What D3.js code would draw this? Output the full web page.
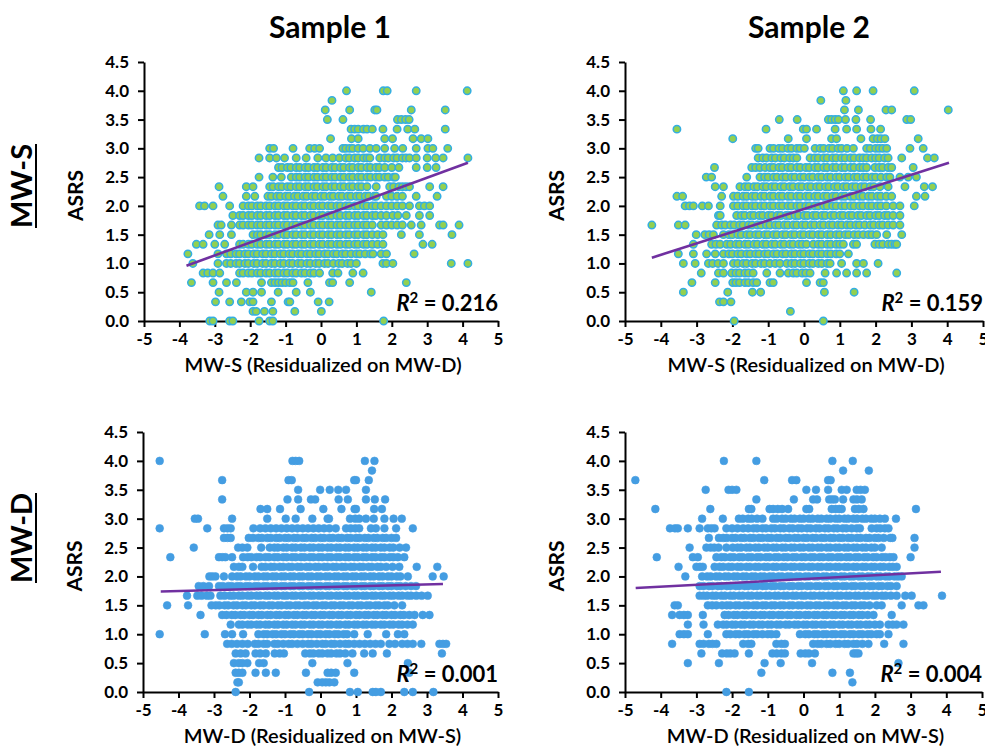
<!DOCTYPE html>
<html>
<head>
<meta charset="utf-8">
<script src="https://cdn.jsdelivr.net/npm/d3@7"></script>
<style>
    body { margin: 0; background: #fff; }
    text { font-family: Lato, "Open Sans", sans-serif; }
</style>
</head>
<body>
<svg id="chart" width="985" height="752"></svg>
<script>
/*
 * ASRS vs residualized MW-S / MW-D, two samples
 * Each row array holds the x values of the points sitting on one ASRS level
 */

var asrsLevels = [0, 0.167, 0.333, 0.5, 0.667, 0.833, 1, 1.167, 1.333, 1.5, 1.667, 1.833,
    2, 2.167, 2.333, 2.5, 2.667, 2.833, 3, 3.167, 3.333, 3.5, 3.667, 3.833, 4];

var xTicks = [-5, -4, -3, -2, -1, 0, 1, 2, 3, 4, 5];
var yTicks = [0, 0.5, 1, 1.5, 2, 2.5, 3, 3.5, 4, 4.5];

var sampleTitles = ["Sample 1", "Sample 2"];
var rowTitles = ["MW-S", "MW-D"];
var xTitles = ["MW-S (Residualized on MW-D)", "MW-D (Residualized on MW-S)"];
var rSquared = ["0.216", "0.159", "0.001", "0.004"];

// fitted lines, [x, y] at both ends
var trendS1Mws = [[-3.8, 0.96], [4.15, 2.75]];
var trendS2Mws = [[-4.25, 1.1], [4.05, 2.75]];
var trendS1Mwd = [[-4.5, 1.74], [3.45, 1.87]];
var trendS2Mwd = [[-4.7, 1.8], [3.85, 2.08]];

var s1MwsRows = [
    [-3.14, -3.05, -2.58, -2.49, -1.75, -1.45, -1.36, 1.77],
    [-1.92, -1.83, -1.6, -1.36, -0.74, 0.01],
    [-2.98, -2.58, -2.25, -2.01, -1.92, -1.4, -0.93, -0.88, -0.08, 0.23],
    [-2.88, -2.11, -1.92, -1.68, -1.21, -0.7, -0.3, 1.42],
    [-3.66, -3.05, -2.67, -2.39, -1.68, -1.4, -1.3, -1.2, -1.1, -1.0, -0.88, -0.79, -0.37, 0.24, 0.33, 0.81, 2.41],
    [-3.33, -3.2, -3.05, -2.86, -2.3, -2.2, -2.05, -1.95, -1.8, -1.7, -1.55, -1.45, -1.3, -1.2, -1.05, -0.95, -0.8, -0.7, -0.55, -0.45, -0.3, -0.2, -0.04, 0.33, 0.48, 0.9, 1.19],
    [-3.62, -2.91, -2.67, -2.55, -2.4, -2.3, -2.15, -2.05, -1.9, -1.8, -1.65, -1.55, -1.4, -1.3, -1.15, -1.05, -0.9, -0.8, -0.65, -0.55, -0.4, -0.3, -0.15, -0.05, 0.1, 0.2, 0.35, 0.5, 0.6, 0.75, 0.85, 1.0, 1.75, 1.85, 2.03, 3.68, 4.15],
    [-3.76, -2.91, -2.67, -2.55, -2.4, -2.3, -2.15, -2.05, -1.9, -1.8, -1.65, -1.55, -1.4, -1.3, -1.15, -1.05, -0.9, -0.8, -0.65, -0.55, -0.4, -0.3, -0.15, -0.05, 0.1, 0.2, 0.35, 0.45, 0.6, 0.7, 0.85, 1.0, 1.1, 1.25, 1.4, 1.47, 1.7, 1.85, 2.63],
    [-3.52, -3.33, -3.0, -2.72, -2.3, -2.2, -2.05, -1.95, -1.8, -1.7, -1.55, -1.45, -1.3, -1.2, -1.05, -0.95, -0.8, -0.7, -0.55, -0.45, -0.3, -0.2, -0.05, 0.05, 0.2, 0.3, 0.45, 0.55, 0.7, 0.8, 0.95, 1.05, 1.2, 1.3, 1.45, 1.6, 1.75, 2.88, 3.14],
    [-3.16, -2.86, -2.53, -1.92, -1.8, -1.7, -1.55, -1.45, -1.3, -1.2, -1.05, -0.95, -0.8, -0.7, -0.55, -0.45, -0.3, -0.2, -0.05, 0.05, 0.2, 0.3, 0.45, 0.55, 0.7, 0.8, 0.95, 1.05, 1.2, 1.3, 1.45, 1.6, 1.75, 2.27, 2.78, 3.7],
    [-2.91, -2.82, -2.53, -2.3, -2.2, -2.05, -1.95, -1.8, -1.7, -1.55, -1.45, -1.3, -1.2, -1.05, -0.95, -0.8, -0.7, -0.55, -0.45, -0.3, -0.2, -0.05, 0.05, 0.2, 0.3, 0.45, 0.55, 0.7, 0.8, 0.95, 1.05, 1.2, 1.3, 1.45, 1.7, 1.85, 2.0, 2.15, 2.3, 2.55, 2.83, 3.35, 3.45, 3.9],
    [-2.49, -2.3, -2.2, -2.05, -1.95, -1.8, -1.7, -1.55, -1.45, -1.3, -1.2, -1.05, -0.95, -0.8, -0.7, -0.55, -0.45, -0.3, -0.2, -0.05, 0.05, 0.2, 0.3, 0.45, 0.55, 0.7, 0.8, 0.95, 1.05, 1.2, 1.3, 1.45, 1.55, 1.7, 1.85, 2.03, 2.17, 2.41, 2.78, 3.07],
    [-3.43, -3.29, -3.05, -2.58, -2.2, -2.05, -1.95, -1.8, -1.7, -1.55, -1.45, -1.3, -1.2, -1.05, -0.95, -0.8, -0.7, -0.55, -0.45, -0.3, -0.2, -0.05, 0.05, 0.2, 0.3, 0.45, 0.55, 0.7, 0.8, 0.95, 1.05, 1.2, 1.3, 1.45, 1.55, 1.7, 1.85, 2.0, 2.15, 2.3, 2.5, 2.78, 2.92, 3.07],
    [-2.77, -2.11, -1.87, -1.5, -1.4, -1.25, -1.15, -1.0, -0.9, -0.75, -0.65, -0.5, -0.4, -0.25, -0.15, 0.0, 0.1, 0.25, 0.35, 0.5, 0.6, 0.75, 0.85, 1.0, 1.1, 1.25, 1.35, 1.5, 1.56, 1.85, 2.0, 2.15, 2.3, 2.69, 3.28],
    [-2.88, -2.11, -1.92, -1.45, -1.35, -1.2, -1.1, -0.95, -0.85, -0.7, -0.6, -0.45, -0.35, -0.2, -0.1, 0.05, 0.15, 0.3, 0.4, 0.55, 0.65, 0.8, 0.9, 1.05, 1.15, 1.3, 1.56, 1.94, 2.05, 2.2, 2.3, 2.4, 2.5, 3.07, 3.45],
    [-1.75, -1.36, -1.12, -0.84, -0.7, -0.6, -0.45, -0.35, -0.2, -0.1, 0.05, 0.15, 0.3, 0.4, 0.55, 0.65, 0.8, 0.9, 1.05, 1.15, 1.3, 1.4, 1.55, 1.65, 1.8, 1.9, 2.05, 2.1],
    [-1.2, -1.1, -0.95, -0.85, -0.7, -0.6, -0.45, -0.35, -0.2, -0.1, 0.05, 0.15, 0.3, 0.4, 0.55, 0.65, 0.8, 0.9, 1.05, 1.15, 1.3, 1.4, 1.55, 1.65, 1.8, 2.0, 2.2, 2.69, 3.0, 3.25],
    [-1.75, -1.45, -1.26, -1.03, -0.7, -0.42, -0.09, 0.14, 0.33, 0.52, 0.7, 0.8, 0.95, 1.05, 1.2, 1.3, 1.38, 1.66, 1.8, 1.9, 2.05, 2.15, 2.3, 2.4, 2.5, 2.69, 3.0, 3.24, 3.45, 4.15],
    [-1.45, -1.34, -0.79, -0.32, -0.18, -0.04, 0.62, 0.7, 0.81, 0.9, 1.05, 1.19, 1.38, 1.56, 1.8, 2.08, 2.31, 2.69, 3.02, 3.16, 3.58],
    [0.27, 0.86, 1.05, 1.8, 2.02, 2.6, 2.83, 3.02],
    [0.85, 0.95, 1.05, 1.2, 1.3, 1.45, 1.75, 2.15, 2.45, 2.65, 3.51],
    [0.18, 0.62, 2.16, 2.27, 2.39, 2.49],
    [0.12, 0.81, 1.52, 1.58, 2.55, 3.51],
    [0.31],
    [0.72, 1.76, 1.87, 2.69, 4.13]
];

var s2MwsRows = [
    [-1.95, 0.54],
    [-0.38],
    [-2.36, -2.25, -2.04],
    [-3.37, -2.13, -1.44, -1.21, 0.57, 1.4],
    [-3.13, -2.48, -1.99, -1.9, -1.8, -1.65, -1.55, -1.42, -1.32, -0.95, -0.86, 0.07, 0.45, 0.54],
    [-2.87, -2.39, -2.25, -2.02, -1.9, -1.8, -1.65, -1.55, -1.42, -1.04, -0.67, -0.44, -0.3, -0.2, -0.05, 0.05, 0.17, 0.59, 0.91, 1.19, 1.47, 1.75, 2.59],
    [-3.37, -3.04, -2.67, -2.55, -2.4, -2.25, -1.97, -1.85, -1.7, -1.6, -1.45, -1.35, -1.2, -1.1, -0.95, -0.8, -0.67, -0.48, -0.35, -0.25, -0.1, 0.0, 0.15, 0.25, 0.4, 0.5, 0.65, 0.73, 1.05, 1.47, 1.66, 2.07],
    [-3.51, -3.09, -2.72, -2.48, -2.25, -2.1, -2.0, -1.85, -1.75, -1.6, -1.5, -1.35, -1.25, -1.1, -1.0, -0.85, -0.75, -0.6, -0.5, -0.35, -0.25, -0.1, 0.0, 0.15, 0.25, 0.4, 0.5, 0.65, 0.75, 0.9, 1.0, 1.24],
    [-3.09, -2.58, -2.46, -2.34, -2.16, -2.05, -1.9, -1.8, -1.65, -1.55, -1.4, -1.3, -1.15, -1.05, -0.9, -0.8, -0.65, -0.55, -0.4, -0.3, -0.15, -0.05, 0.07, 0.26, 0.4, 0.5, 0.65, 0.75, 0.9, 1.0, 1.1, 1.38, 1.47, 1.98, 2.1, 2.2, 2.35, 2.45, 2.54, 2.59],
    [-3.01, -2.77, -2.65, -2.53, -2.25, -2.1, -2.0, -1.85, -1.75, -1.6, -1.5, -1.35, -1.25, -1.1, -1.0, -0.85, -0.75, -0.6, -0.5, -0.35, -0.25, -0.1, 0.0, 0.15, 0.25, 0.4, 0.5, 0.65, 0.75, 0.9, 1.0, 1.15, 1.25, 1.4, 1.52, 1.66, 1.8, 1.9, 2.03, 2.31, 2.73],
    [-4.25, -3.51, -3.32, -2.44, -2.3, -2.2, -2.05, -1.95, -1.8, -1.7, -1.55, -1.45, -1.3, -1.2, -1.05, -0.95, -0.8, -0.7, -0.55, -0.45, -0.3, -0.2, -0.05, 0.05, 0.2, 0.3, 0.45, 0.55, 0.7, 0.8, 0.95, 1.05, 1.2, 1.3, 1.45, 1.55, 1.7, 1.85, 1.95, 2.1, 2.2, 2.35, 2.49, 2.68],
    [-2.39, -2.34, -1.88, -1.75, -1.65, -1.5, -1.4, -1.25, -1.15, -1.0, -0.9, -0.75, -0.65, -0.5, -0.4, -0.25, -0.15, 0.0, 0.1, 0.25, 0.35, 0.5, 0.6, 0.75, 0.85, 1.0, 1.1, 1.25, 1.35, 1.5, 1.6, 1.75, 1.85, 2.0, 2.1, 2.25, 2.35, 2.49, 2.68],
    [-3.32, -3.2, -3.09, -2.84, -2.67, -2.34, -1.97, -1.85, -1.7, -1.6, -1.45, -1.35, -1.2, -1.1, -0.95, -0.85, -0.7, -0.6, -0.45, -0.35, -0.2, -0.1, 0.05, 0.15, 0.3, 0.4, 0.55, 0.65, 0.8, 0.9, 1.05, 1.15, 1.3, 1.4, 1.55, 1.65, 1.8, 1.9, 2.05, 2.15, 2.3, 2.49, 2.68, 3.08],
    [-3.55, -3.39, -2.3, -1.97, -1.85, -1.7, -1.6, -1.45, -1.35, -1.2, -1.1, -0.95, -0.85, -0.7, -0.6, -0.45, -0.35, -0.2, -0.1, 0.05, 0.15, 0.3, 0.4, 0.55, 0.65, 0.8, 0.9, 1.05, 1.15, 1.3, 1.4, 1.55, 1.65, 1.8, 1.9, 2.05, 2.15, 2.3, 2.45, 3.14, 3.38],
    [-2.48, -2.25, -1.79, -1.65, -1.55, -1.4, -1.3, -1.15, -1.05, -0.9, -0.8, -0.65, -0.55, -0.4, -0.3, -0.15, -0.05, 0.1, 0.2, 0.35, 0.45, 0.6, 0.7, 0.85, 0.95, 1.1, 1.2, 1.35, 1.45, 1.6, 1.7, 1.85, 1.95, 2.12, 2.35, 2.82, 3.36, 3.59],
    [-2.73, -2.58, -1.6, -1.23, -1.1, -1.0, -0.85, -0.75, -0.6, -0.5, -0.35, -0.25, -0.1, 0.0, 0.15, 0.25, 0.4, 0.5, 0.65, 0.75, 0.9, 1.0, 1.15, 1.25, 1.4, 1.5, 1.65, 1.75, 1.9, 2.0, 2.15, 2.31, 2.4, 2.68, 2.91, 3.14],
    [-2.5, -1.46, -1.35, -1.23, -1.09, -0.95, -0.85, -0.7, -0.6, -0.45, -0.35, -0.2, -0.1, 0.05, 0.15, 0.3, 0.4, 0.55, 0.65, 0.8, 0.9, 1.05, 1.15, 1.3, 1.4, 1.55, 1.65, 1.75, 1.98, 2.1, 2.2, 2.35, 2.45, 3.05],
    [-1.28, -1.15, -1.05, -0.9, -0.8, -0.65, -0.55, -0.4, -0.3, -0.2, 0.17, 0.3, 0.4, 0.55, 0.65, 0.8, 0.9, 1.05, 1.15, 1.3, 1.4, 1.55, 1.65, 1.75, 1.89, 2.0, 2.1, 2.25, 2.35, 2.73, 3.45, 3.64],
    [-1.35, -1.28, -0.95, -0.85, -0.7, -0.6, -0.45, -0.35, -0.2, -0.11, 0.01, 0.31, 0.45, 0.55, 0.7, 0.8, 0.95, 1.05, 1.2, 1.38, 1.75, 1.85, 2.0, 2.1, 2.2, 2.31, 2.96, 3.33],
    [-1.99, -0.44, 0.07, 0.77, 0.91, 1.59, 1.93, 2.05, 2.15, 2.26, 3.19],
    [-3.55, -1.06, -0.02, 0.07, 0.35, 0.87, 1.19, 1.47, 1.87, 2.14],
    [-0.69, -0.19, 0.68, 0.77, 0.87, 0.96, 1.16, 1.45, 1.86, 2.87, 2.98],
    [1.13, 1.52, 2.29, 2.45, 4.03],
    [0.47, 1.17],
    [1.1, 1.47, 1.93, 3.08]
];

var s1MwdRows = [
    [-2.39, -0.32, 0.83, 1.05, 1.47, 1.56, 1.7, 2.36, 2.6, 3.18],
    [-2.34, -2.3, -0.08, 0.05, 0.15, 0.25, 0.39],
    [-2.39, -2.3, -2.2, -1.83, -1.54, -1.26, -0.41, 0.2, 0.3, 0.43, 0.95, 2.5],
    [-2.44, -2.3, -2.2, -2.06, -1.73, -1.6, -0.23, 0.76, 2.46],
    [-2.39, -2.25, -2.11, -1.83, -1.7, -1.54, -1.29, -1.15, -1.03, -0.43, -0.3, -0.2, -0.05, 0.05, 0.2, 0.3, 0.45, 0.55, 0.7, 0.9, 1.23, 1.47, 1.87, 3.42],
    [-2.63, -2.5, -2.35, -2.2, -2.05, -1.85, -1.75, -1.6, -1.5, -1.3, -1.2, -1.05, -0.9, -0.8, -0.65, -0.5, -0.35, -0.25, -0.1, 0.05, 0.15, 0.3, 0.4, 0.55, 0.7, 0.8, 0.95, 1.1, 1.25, 1.4, 1.55, 1.7, 1.94, 2.1, 2.3, 2.45, 2.6, 2.84, 3.35, 3.45, 3.54],
    [-4.53, -3.26, -2.69, -2.49, -2.18, -1.75, -1.6, -1.5, -1.35, -1.25, -1.1, -1.0, -0.85, -0.75, -0.6, -0.5, -0.35, -0.25, -0.1, 0.0, 0.15, 0.25, 0.4, 0.5, 0.65, 0.75, 0.95, 1.33, 1.85, 2.18, 2.36],
    [-2.53, -2.3, -2.2, -2.05, -1.95, -1.8, -1.7, -1.55, -1.45, -1.3, -1.2, -1.05, -0.95, -0.8, -0.7, -0.55, -0.45, -0.3, -0.2, -0.05, 0.05, 0.2, 0.3, 0.45, 0.55, 0.7, 0.8, 0.95, 1.05, 1.2, 1.3, 1.45, 1.55, 1.7, 1.8, 1.95, 2.05, 2.2, 2.3, 2.45, 2.6],
    [-3.38, -2.77, -2.65, -2.5, -2.4, -2.25, -2.15, -2.0, -1.9, -1.75, -1.65, -1.5, -1.4, -1.25, -1.15, -1.0, -0.9, -0.75, -0.65, -0.5, -0.4, -0.25, -0.15, 0.0, 0.1, 0.25, 0.35, 0.5, 0.6, 0.75, 0.85, 1.0, 1.1, 1.25, 1.35, 1.5, 1.6, 1.75, 1.85, 2.0, 2.1, 2.25, 2.35, 2.5, 2.65, 2.88, 3.07],
    [-4.32, -3.73, -3.07, -2.95, -2.85, -2.7, -2.6, -2.45, -2.35, -2.2, -2.1, -1.95, -1.85, -1.7, -1.6, -1.45, -1.35, -1.2, -1.1, -0.95, -0.85, -0.7, -0.6, -0.45, -0.35, -0.2, -0.1, 0.05, 0.15, 0.3, 0.4, 0.55, 0.65, 0.8, 0.9, 1.05, 1.15, 1.3, 1.4, 1.55, 1.65, 1.8, 1.9, 2.08, 2.3],
    [-3.76, -3.47, -3.35, -3.2, -3.1, -2.82, -2.7, -2.55, -2.45, -2.3, -2.2, -2.05, -1.95, -1.8, -1.7, -1.55, -1.45, -1.3, -1.2, -1.05, -0.95, -0.8, -0.7, -0.55, -0.45, -0.3, -0.2, -0.05, 0.05, 0.2, 0.3, 0.45, 0.55, 0.7, 0.8, 0.95, 1.05, 1.2, 1.3, 1.45, 1.55, 1.7, 1.8, 1.95, 2.05, 2.2, 2.3, 2.45, 2.55, 2.7, 2.85, 3.02],
    [-3.43, -3.3, -3.14, -2.86, -2.75, -2.6, -2.5, -2.35, -2.25, -2.1, -2.0, -1.85, -1.75, -1.6, -1.5, -1.35, -1.25, -1.1, -1.0, -0.85, -0.75, -0.6, -0.5, -0.35, -0.25, -0.1, 0.0, 0.15, 0.25, 0.4, 0.5, 0.65, 0.75, 0.9, 1.0, 1.15, 1.25, 1.4, 1.5, 1.65, 1.75, 1.9, 2.0, 2.15, 2.25, 2.4, 2.55, 2.69],
    [-3.13, -3.05, -2.96, -2.72, -2.49, -2.35, -2.25, -2.1, -2.0, -1.85, -1.75, -1.6, -1.5, -1.35, -1.25, -1.1, -1.0, -0.85, -0.75, -0.6, -0.5, -0.35, -0.25, -0.1, 0.0, 0.15, 0.25, 0.4, 0.5, 0.65, 0.75, 0.9, 1.0, 1.15, 1.25, 1.4, 1.5, 1.65, 1.75, 1.9, 2.0, 2.15, 2.25, 2.46, 3.16, 3.47],
    [-2.44, -2.3, -2.2, -1.9, -1.66, -1.55, -1.4, -1.3, -1.15, -1.05, -0.9, -0.8, -0.65, -0.55, -0.4, -0.3, -0.15, -0.05, 0.1, 0.2, 0.35, 0.45, 0.6, 0.7, 0.85, 0.95, 1.1, 1.2, 1.35, 1.45, 1.6, 1.7, 1.85, 2.03, 2.22, 2.71, 3.29],
    [-4.23, -2.86, -2.77, -2.68, -2.49, -2.18, -2.05, -1.95, -1.8, -1.7, -1.55, -1.45, -1.3, -1.2, -1.05, -0.95, -0.8, -0.7, -0.55, -0.45, -0.3, -0.2, -0.05, 0.05, 0.2, 0.3, 0.45, 0.55, 0.7, 0.8, 0.95, 1.05, 1.2, 1.3, 1.45, 1.55, 1.7, 1.8, 1.95, 2.05, 2.18, 2.36],
    [-3.57, -2.32, -2.2, -2.06, -1.67, -1.43, -1.3, -1.2, -1.05, -0.95, -0.8, -0.7, -0.55, -0.45, -0.3, -0.2, -0.05, 0.05, 0.2, 0.3, 0.45, 0.55, 0.7, 0.8, 0.95, 1.05, 1.2, 1.3, 1.45, 1.55, 1.7, 1.8, 1.95, 2.05, 2.23, 2.41],
    [-2.72, -2.62, -2.53, -2.02, -1.9, -1.75, -1.65, -1.5, -1.4, -1.25, -1.15, -1.0, -0.9, -0.75, -0.65, -0.5, -0.4, -0.25, -0.15, 0.0, 0.1, 0.25, 0.35, 0.5, 0.6, 0.75, 0.85, 1.0, 1.1, 1.25, 1.35, 1.5, 1.6, 1.75, 1.85, 2.0, 2.13],
    [-4.53, -3.19, -2.72, -2.62, -2.53, -1.89, -1.7, -1.55, -1.4, -1.25, -1.1, -0.95, -0.8, -0.65, -0.5, -0.35, -0.2, -0.05, 0.1, 0.25, 0.43, 0.72, 0.85, 0.98, 1.09, 1.42, 1.56, 1.8, 2.13, 2.6],
    [-3.54, -3.45, -2.49, -1.5, -0.98, -0.7, -0.23, 0.2, 0.24, 0.83, 0.98, 1.09, 1.28, 1.5, 1.8, 2.06, 2.29],
    [-1.69, -1.5, -1.14, -0.56, 0.08, 0.59, 0.96, 1.0, 1.51, 1.73],
    [-2.77, -0.93, -0.63, -0.27, -0.15, 0.51, 0.77, 1.28, 1.53, 1.82],
    [-0.63, -0.01, 0.26, 0.5, 0.72, 1.28],
    [-2.77, -0.9, -0.81, 0.95, 1.0, 1.36],
    [1.45],
    [-4.53, -0.79, -0.7, -0.6, 1.25, 1.52]
];

var s2MwdRows = [
    [-2.16, -1.53],
    [1.37],
    [-1.18, 0.81, 1.3],
    [-3.24, -2.37, -1.09, -0.64, 0.24, 2.66],
    [-2.86, -2.28, -2.15, -2.05, -1.93, -1.53, -0.87, -0.75, -0.62, -0.52, -0.08, 0.05, 0.15, 0.32, 1.4, 1.47, 1.54],
    [-3.68, -2.91, -2.8, -2.65, -2.55, -2.44, -1.69, -1.55, -1.46, -0.76, -0.62, -0.52, 0.27, 0.4, 0.5, 0.65, 0.75, 0.9, 1.0, 1.15, 1.25, 1.4, 1.5, 1.65, 1.82, 2.26, 2.8],
    [-3.47, -3.35, -3.24, -2.68, -2.16, -2.05, -1.9, -1.8, -1.65, -1.55, -1.4, -1.3, -1.15, -1.0, -0.9, -0.76, -0.1, 0.05, 0.15, 0.3, 0.4, 0.55, 0.65, 0.8, 0.9, 1.05, 1.15, 1.3, 1.4, 1.55, 1.65, 1.8, 1.9, 2.05, 2.14, 2.38],
    [-3.24, -2.8, -2.4, -2.25, -2.15, -2.0, -1.9, -1.75, -1.65, -1.5, -1.4, -1.25, -1.15, -1.0, -0.9, -0.75, -0.65, -0.5, -0.4, -0.25, -0.15, 0.0, 0.1, 0.25, 0.35, 0.5, 0.6, 0.75, 0.85, 1.0, 1.1, 1.25, 1.35, 1.5, 1.6, 1.75, 1.85, 2.0, 2.14, 2.38, 2.5, 2.61, 2.8],
    [-3.68, -3.47, -3.35, -3.24, -2.82, -2.21, -2.1, -1.95, -1.85, -1.7, -1.6, -1.45, -1.35, -1.2, -1.1, -0.95, -0.85, -0.7, -0.6, -0.45, -0.35, -0.2, -0.1, 0.05, 0.15, 0.3, 0.4, 0.55, 0.65, 0.8, 0.9, 1.05, 1.15, 1.3, 1.4, 1.55, 1.65, 1.8, 1.96, 2.47],
    [-3.61, -3.52, -2.68, -2.56, -2.44, -2.28, -2.15, -2.05, -1.9, -1.8, -1.65, -1.55, -1.4, -1.3, -1.15, -1.05, -0.9, -0.8, -0.65, -0.55, -0.4, -0.3, -0.15, -0.05, 0.1, 0.2, 0.35, 0.45, 0.6, 0.7, 0.85, 0.95, 1.1, 1.2, 1.35, 1.45, 1.6, 1.7, 1.85, 2.05, 2.19, 2.75, 3.22, 3.36],
    [-2.91, -2.8, -2.7, -2.55, -2.45, -2.3, -2.2, -2.05, -1.95, -1.8, -1.7, -1.55, -1.45, -1.3, -1.2, -1.05, -0.95, -0.8, -0.7, -0.55, -0.45, -0.3, -0.2, -0.05, 0.05, 0.2, 0.3, 0.45, 0.55, 0.7, 0.8, 0.95, 1.05, 1.2, 1.3, 1.45, 1.55, 1.7, 1.8, 1.95, 2.05, 2.2, 2.3, 2.45, 2.61, 2.85, 3.03, 3.88],
    [-2.91, -2.8, -2.65, -2.55, -2.4, -2.3, -2.15, -2.05, -1.9, -1.8, -1.65, -1.55, -1.4, -1.3, -1.15, -1.05, -0.9, -0.8, -0.65, -0.55, -0.4, -0.3, -0.15, -0.05, 0.1, 0.2, 0.35, 0.45, 0.6, 0.7, 0.85, 0.95, 1.1, 1.2, 1.35, 1.45, 1.6, 1.7, 1.85, 1.95, 2.1, 2.2, 2.35, 2.45, 2.61],
    [-3.31, -2.84, -2.7, -2.6, -2.45, -2.35, -2.2, -2.1, -1.95, -1.85, -1.7, -1.6, -1.45, -1.35, -1.2, -1.1, -0.95, -0.85, -0.7, -0.6, -0.45, -0.35, -0.2, -0.1, 0.05, 0.15, 0.3, 0.4, 0.55, 0.65, 0.8, 0.9, 1.05, 1.15, 1.3, 1.4, 1.55, 1.65, 1.8, 1.9, 2.05, 2.15, 2.3, 2.4, 2.55, 2.65, 2.75],
    [-3.5, -3.0, -2.9, -2.82, -2.49, -2.35, -2.25, -2.1, -2.0, -1.85, -1.75, -1.6, -1.5, -1.35, -1.25, -1.1, -1.0, -0.85, -0.75, -0.6, -0.5, -0.35, -0.25, -0.1, 0.0, 0.15, 0.25, 0.4, 0.5, 0.65, 0.75, 0.9, 1.0, 1.15, 1.25, 1.4, 1.5, 1.65, 1.75, 1.9, 2.0, 2.15, 2.25, 2.4, 2.5, 2.61],
    [-4.11, -3.1, -2.96, -2.44, -2.3, -2.2, -2.05, -1.95, -1.8, -1.7, -1.55, -1.45, -1.3, -1.2, -1.05, -0.95, -0.8, -0.7, -0.55, -0.45, -0.3, -0.2, -0.05, 0.05, 0.2, 0.3, 0.45, 0.55, 0.7, 0.8, 0.95, 1.05, 1.2, 1.3, 1.45, 1.55, 1.7, 1.8, 1.95, 2.05, 2.2, 2.3, 2.42, 2.52, 3.0],
    [-3.19, -2.72, -2.6, -2.5, -2.38, -2.16, -1.98, -1.85, -1.75, -1.6, -1.5, -1.35, -1.25, -1.1, -1.0, -0.85, -0.75, -0.6, -0.5, -0.35, -0.25, -0.1, 0.0, 0.15, 0.25, 0.4, 0.5, 0.65, 0.75, 0.9, 1.0, 1.15, 1.25, 1.4, 1.5, 1.65, 1.75, 1.9, 2.0, 2.19, 3.11],
    [-2.65, -2.37, -2.25, -2.15, -2.0, -1.9, -1.75, -1.65, -1.5, -1.4, -1.25, -1.15, -1.0, -0.9, -0.75, -0.65, -0.5, -0.4, -0.25, -0.15, 0.0, 0.1, 0.25, 0.35, 0.5, 0.6, 0.75, 0.85, 1.0, 1.1, 1.25, 1.35, 1.5, 1.6, 1.75, 1.85, 2.0, 2.1, 2.25, 2.43, 2.49, 3.11],
    [-3.74, -3.6, -3.52, -3.24, -2.91, -2.68, -2.58, -2.49, -2.16, -2.0, -1.85, -1.69, -1.55, -1.4, -1.3, -1.15, -1.05, -0.9, -0.8, -0.65, -0.55, -0.4, -0.3, -0.15, -0.05, 0.1, 0.2, 0.35, 0.45, 0.6, 0.7, 0.85, 0.95, 1.1, 1.2, 1.35, 1.49, 1.58, 1.91, 2.05, 2.15, 2.28, 2.38],
    [-2.84, -2.26, -1.81, -1.7, -1.55, -1.45, -1.3, -1.15, -0.85, -0.75, -0.6, -0.5, -0.35, -0.25, -0.1, 0.0, 0.15, 0.25, 0.4, 0.5, 0.65, 0.75, 0.9, 1.0, 1.15, 1.25, 1.4, 1.5, 1.65, 1.75, 1.9, 2.0, 2.14, 2.28, 2.59],
    [-4.15, -2.61, -1.53, -1.46, -0.95, -0.85, -0.72, -0.6, -0.43, 0.08, 0.16, 0.79, 0.9, 1.0, 1.07, 1.44, 1.55, 1.68, 3.15],
    [-1.32, -0.27, 0.27, 0.38, 0.72, 0.8, 0.88, 1.11, 1.4, 1.5, 1.63],
    [-2.74, -2.1, -2.0, -1.88, 0.08, 0.35, 0.69, 1.07, 1.21, 1.49, 1.6, 1.72],
    [-4.71, -1.1, -0.32, -0.2, 0.69, 0.76],
    [1.11, 1.83],
    [-2.23, -1.32, 0.81, 1.38]
];

var GREEN_FILL = "#92d050";
var GREEN_EDGE = "#33aee3";
var BLUE_FILL = "#449de2";
var TREND_COLOR = "#7030a0";

var svg = d3.select("#chart");

var panels = [
    { rows: s1MwsRows, trend: trendS1Mws, r2: rSquared[0], xTitle: xTitles[0],
      left: 144, right: 498, top: 62, bottom: 321, fill: GREEN_FILL, edge: GREEN_EDGE, r: 3.7, sw: 1.5 },
    { rows: s2MwsRows, trend: trendS2Mws, r2: rSquared[1], xTitle: xTitles[0],
      left: 625, right: 983, top: 62, bottom: 321, fill: GREEN_FILL, edge: GREEN_EDGE, r: 3.7, sw: 1.5 },
    { rows: s1MwdRows, trend: trendS1Mwd, r2: rSquared[2], xTitle: xTitles[1],
      left: 143, right: 498, top: 432, bottom: 692, fill: BLUE_FILL, edge: BLUE_FILL, r: 3.9, sw: 0.6 },
    { rows: s2MwdRows, trend: trendS2Mwd, r2: rSquared[3], xTitle: xTitles[1],
      left: 625, right: 982, top: 432, bottom: 692, fill: BLUE_FILL, edge: BLUE_FILL, r: 3.9, sw: 0.6 }
];

/**
 * Draw one scatter panel with its axes, points, fit line and R² label
 */
function drawPanel(p) {
    var x = d3.scaleLinear().domain([-5, 5]).range([p.left, p.right]);
    var y = d3.scaleLinear().domain([0, 4.5]).range([p.bottom, p.top]);
    var g = svg.append("g");

    var yAxis = g.append("g")
        .attr("transform", "translate(" + p.left + ",0)")
        .call(d3.axisLeft(y).tickValues(yTicks).tickFormat(d3.format(".1f"))
            .tickSize(6).tickSizeOuter(0).tickPadding(9));
    var xAxis = g.append("g")
        .attr("transform", "translate(0," + p.bottom + ")")
        .call(d3.axisBottom(x).tickValues(xTicks).tickFormat(function(d) { return String(d); })
            .tickSize(6).tickSizeOuter(0).tickPadding(6));

    [yAxis, xAxis].forEach(function(a) {
        a.select(".domain").style("stroke", "#000").style("stroke-width", 2);
        a.selectAll(".tick line").style("stroke", "#000").style("stroke-width", 2);
        a.selectAll(".tick text")
            .style("font-family", "Lato, sans-serif")
            .style("font-size", "17px")
            .style("font-weight", "bold")
            .style("fill", "#000");
    });

    var points = [];
    p.rows.forEach(function(row, i) {
        row.forEach(function(v) { points.push({ x: v, y: asrsLevels[i] }); });
    });

    g.append("g").selectAll("circle")
        .data(points)
        .enter().append("circle")
        .attr("cx", function(d) { return x(d.x); })
        .attr("cy", function(d) { return y(d.y); })
        .attr("r", p.r)
        .style("fill", p.fill)
        .style("stroke", p.edge)
        .style("stroke-width", p.sw);

    g.append("line")
        .attr("x1", x(p.trend[0][0]))
        .attr("y1", y(p.trend[0][1]))
        .attr("x2", x(p.trend[1][0]))
        .attr("y2", y(p.trend[1][1]))
        .style("stroke", TREND_COLOR)
        .style("stroke-width", 2.6);

    var r2 = g.append("text")
        .attr("x", p.right)
        .attr("y", p.bottom - 10)
        .attr("text-anchor", "end")
        .style("font-size", "22px")
        .style("font-weight", "bold");
    r2.append("tspan").style("font-style", "italic").text("R");
    r2.append("tspan").attr("dy", -8).style("font-size", "15px").text("2");
    r2.append("tspan").attr("dy", 8).text(" = " + p.r2);

    g.append("text")
        .attr("x", (p.left + p.right) / 2 + 2)
        .attr("y", p.bottom + 51)
        .attr("text-anchor", "middle")
        .style("font-size", "20px")
        .style("font-weight", 600)
        .text(p.xTitle);

    g.append("text")
        .attr("transform", "translate(" + (p.left - 61) + "," + ((p.top + p.bottom) / 2 + 4) + ") rotate(-90)")
        .attr("text-anchor", "middle")
        .style("font-size", "21px")
        .style("font-weight", "bold")
        .text("ASRS");
}

panels.forEach(drawPanel);

// column headers
svg.selectAll(".sample-title")
    .data(sampleTitles)
    .enter().append("text")
    .attr("class", "sample-title")
    .attr("x", function(d, i) { return i === 0 ? 330 : 809; })
    .attr("y", 38)
    .attr("text-anchor", "middle")
    .style("font-size", "30px")
    .style("font-weight", "bold")
    .text(function(d) { return d; });

// row headers, underlined
rowTitles.forEach(function(t, i) {
    var cy = i === 0 ? 186 : 538;
    var label = svg.append("text")
        .attr("transform", "translate(32," + cy + ") rotate(-90)")
        .attr("text-anchor", "middle")
        .style("font-size", "29px")
        .style("font-weight", "bold")
        .text(t);
    var w = label.node().getComputedTextLength();
    svg.append("line")
        .attr("x1", 36).attr("x2", 36)
        .attr("y1", cy - w / 2).attr("y2", cy + w / 2)
        .style("stroke", "#000")
        .style("stroke-width", 2);
});
</script>
</body>
</html>
